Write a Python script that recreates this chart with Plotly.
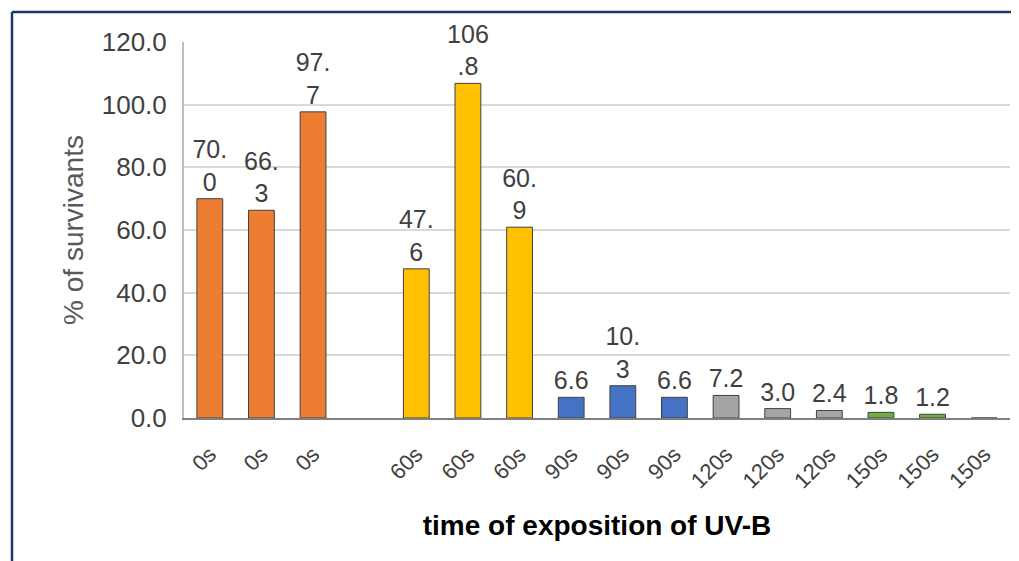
import plotly.graph_objects as go

# ---- data ----
slot_labels = ["0s", "0s", "0s", "", "60s", "60s", "60s", "90s", "90s", "90s",
               "120s", "120s", "120s", "150s", "150s", "150s"]
groups = ["0s", "60s", "90s", "120s", "150s"]
group_slots = {
    "0s": [0, 1, 2],
    "60s": [4, 5, 6],
    "90s": [7, 8, 9],
    "120s": [10, 11, 12],
    "150s": [13, 14, 15],
}
group_values = {
    "0s": [70.0, 66.3, 97.7],
    "60s": [47.6, 106.8, 60.9],
    "90s": [6.6, 10.3, 6.6],
    "120s": [7.2, 3.0, 2.4],
    "150s": [1.8, 1.2, 0.0],
}
group_colors = {
    "0s": "#ED7D31",
    "60s": "#FFC000",
    "90s": "#4472C4",
    "120s": "#A5A5A5",
    "150s": "#70AD47",
}
y_ticks = [0, 20, 40, 60, 80, 100, 120]


def wrap_label(v):
    if v == 0:
        return ""
    s = f"{v:.1f}"
    return s if len(s) <= 3 else s[:3] + "<br>" + s[3:]


FONT = "Liberation Sans, Arial, sans-serif"

fig = go.Figure()
for g in groups:
    vals = group_values[g]
    fig.add_trace(go.Bar(
        x=group_slots[g],
        y=vals,
        width=0.5,
        marker=dict(color=group_colors[g], line=dict(color="#404040", width=1)),
        text=[wrap_label(v) for v in vals],
        textposition="outside",
        constraintext="none",
        textfont=dict(family=FONT, size=25, color="#404040"),
        cliponaxis=False,
        showlegend=False,
        hoverinfo="skip",
    ))

# page body has an 8px margin, so the figure is sized/offset to compensate
OFF = 8
W, H = 1019 - OFF, 561 - OFF
L, R, T, B = 176, 9, 34, 143
pw, ph = W - L - R, H - T - B
bx = 12 - OFF
x0 = (bx - L) / pw
y0 = 1 + (T - bx) / ph
fig.add_shape(type="line", xref="paper", yref="paper", x0=x0, x1=(W + 5 - L) / pw,
              y0=y0, y1=y0, line=dict(color="#1F3864", width=2.5))
fig.add_shape(type="line", xref="paper", yref="paper", x0=x0, x1=x0,
              y0=y0, y1=1 - (H + 5 - T) / ph, line=dict(color="#1F3864", width=2.5))

fig.update_layout(
    width=W, height=H,
    margin=dict(l=L, r=R, t=T, b=B, autoexpand=False),
    paper_bgcolor="white", plot_bgcolor="white",
    bargap=0.5,
    xaxis=dict(
        automargin=False,
        range=[-0.5, 15.5],
        tickmode="array",
        tickvals=list(range(len(slot_labels))),
        ticktext=slot_labels,
        tickangle=-45,
        tickfont=dict(family=FONT, size=22, color="#404040"),
        showgrid=False,
        zeroline=False,
        showline=True, linecolor="#808080", linewidth=1.5,
        ticks="outside", ticklen=13, tickcolor="rgba(0,0,0,0)",
        title=dict(text="<b>time of exposition of UV-B</b>",
                   font=dict(family=FONT, size=28, color="#000000"),
                   standoff=23),
    ),
    yaxis=dict(
        automargin=False,
        range=[0, 120],
        tickmode="array",
        tickvals=y_ticks,
        tickformat=".1f",
        tickfont=dict(family=FONT, size=26, color="#404040"),
        showgrid=True, gridcolor="#D9D9D9", gridwidth=2,
        zeroline=False,
        showline=True, linecolor="#BFBFBF", linewidth=2,
        ticks="outside", ticklen=10, tickcolor="rgba(0,0,0,0)",
        title=dict(text="% of survivants",
                   font=dict(family=FONT, size=28, color="#595959"),
                   standoff=10),
    ),
)

fig.write_html("out.html")
